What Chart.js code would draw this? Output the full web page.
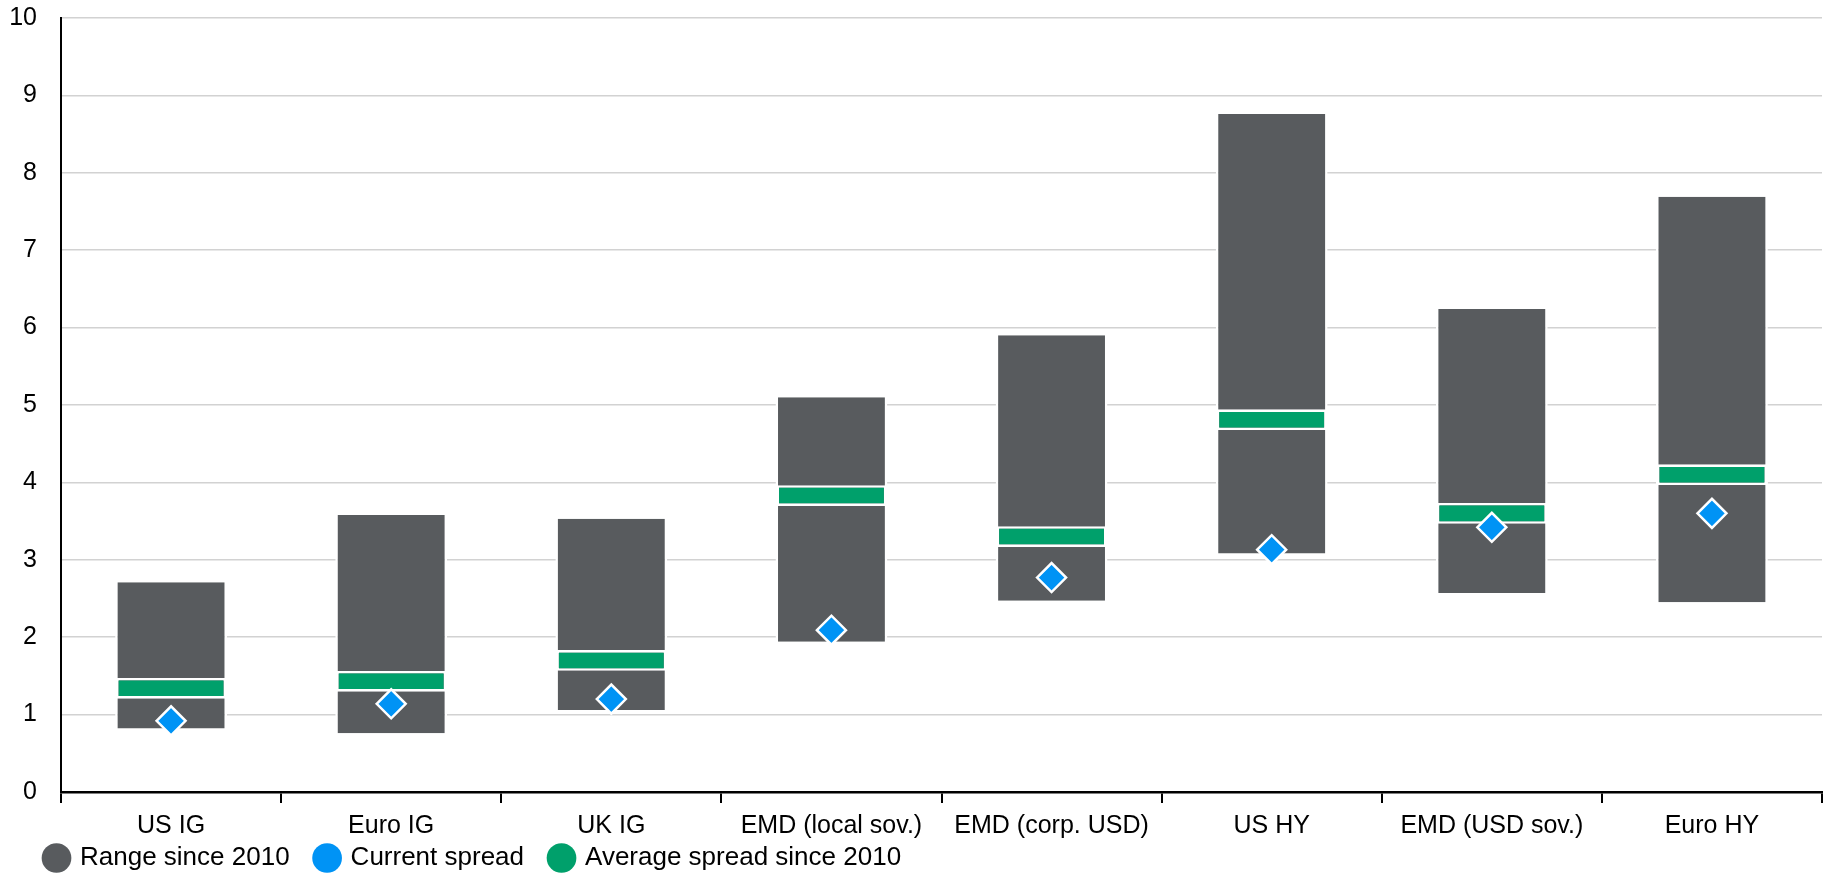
<!DOCTYPE html>
<html>
<head>
<meta charset="utf-8">
<script src="https://cdn.jsdelivr.net/npm/chart.js@4/dist/chart.umd.min.js"></script>
<style>
  html, body { margin: 0; padding: 0; background: #ffffff; overflow: hidden; }
  canvas { display: block; }
</style>
</head>
<body>
<canvas id="c" width="1839" height="875" style="width:1839px;height:875px"></canvas>
<script>
// ---- data ----
const categories = ['US IG', 'Euro IG', 'UK IG', 'EMD (local sov.)', 'EMD (corp. USD)', 'US HY', 'EMD (USD sov.)', 'Euro HY'];
const rangeLow   = [0.82, 0.76, 1.06, 1.94, 2.47, 3.08, 2.57, 2.45];
const rangeHigh  = [2.71, 3.58, 3.53, 5.10, 5.90, 8.76, 6.24, 7.69];
const avgSpread  = [1.34, 1.43, 1.70, 3.83, 3.30, 4.81, 3.60, 4.10];
const currentSpread = [0.92, 1.14, 1.20, 2.09, 2.77, 3.13, 3.42, 3.60];
const seriesNames = ['Range since 2010', 'Current spread', 'Average spread since 2010'];
const yTicks = [0, 1, 2, 3, 4, 5, 6, 7, 8, 9, 10];

// ---- style ----
const GREY = '#585b5e', BLUE = '#0093f5', GREEN = '#00a06b';
const FONT = '"Liberation Sans", Arial, Helvetica, sans-serif';
const BAND_HALF = 0.134; // half thickness of the average-spread marker band (in axis units)

const rangeData = categories.map((c, i) => [rangeLow[i], rangeHigh[i]]);
const avgData = categories.map((c, i) => [avgSpread[i] - BAND_HALF, avgSpread[i] + BAND_HALF]);

// legend placement: keep its layout slot small, then move the drawn box
const legendPlacePlugin = {
  id: 'legendPlace',
  afterInit(chart) {
    const lg = chart.legend;
    if (!lg) return;
    const orig = lg.fit.bind(lg);
    lg.fit = function () { orig(); this.height = 33; };
  },
  afterLayout(chart) {
    const lg = chart.legend;
    if (!lg) return;
    lg.left += 19; lg.right += 19;
    lg.top = chart.height - 57; lg.bottom = chart.height; lg.height = 57;
  }
};

new Chart(document.getElementById('c'), {
  type: 'bar',
  data: {
    labels: categories,
    datasets: [
      {
        label: seriesNames[0],
        data: rangeData,
        backgroundColor: GREY,
        borderColor: '#ffffff',
        borderWidth: { left: 2.5, right: 2.5, top: 0, bottom: 0 },
        borderSkipped: false,
        barPercentage: 0.508,
        categoryPercentage: 1,
        grouped: false,
        order: 2
      },
      {
        type: 'line',
        label: seriesNames[1],
        data: currentSpread,
        showLine: false,
        pointStyle: 'rectRot',
        pointRadius: 14.5,
        pointHoverRadius: 14.5,
        pointBackgroundColor: BLUE,
        pointBorderColor: '#ffffff',
        pointBorderWidth: 2.5,
        backgroundColor: BLUE,
        borderColor: '#ffffff',
        order: 0
      },
      {
        label: seriesNames[2],
        data: avgData,
        backgroundColor: GREEN,
        borderColor: '#ffffff',
        borderWidth: { left: 3.5, right: 3.5, top: 2.6, bottom: 2.6 },
        borderSkipped: false,
        barPercentage: 0.508,
        categoryPercentage: 1,
        grouped: false,
        order: 1
      }
    ]
  },
  options: {
    responsive: false,
    maintainAspectRatio: false,
    devicePixelRatio: 1,
    animation: false,
    layout: { padding: { left: 0, right: 8, top: 18, bottom: 0 } },
    plugins: {
      tooltip: { enabled: false },
      legend: {
        position: 'bottom',
        align: 'start',
        labels: {
          usePointStyle: true,
          pointStyle: 'circle',
          boxWidth: 21,
          boxHeight: 21,
          padding: 27,
          color: '#000000',
          font: { family: FONT, size: 26 },
          sort: (a, b) => a.datasetIndex - b.datasetIndex,
          generateLabels: (chart) => {
            const items = Chart.defaults.plugins.legend.labels.generateLabels(chart);
            items.forEach(it => { it.lineWidth = 0; it.strokeStyle = 'rgba(0,0,0,0)'; it.pointStyle = 'circle'; });
            return items;
          }
        }
      }
    },
    scales: {
      x: {
        offset: true,
        grid: {
          display: true,
          offset: true,
          drawOnChartArea: false,
          drawTicks: true,
          tickLength: 11,
          color: '#000000',
          lineWidth: 2
        },
        border: { display: true, color: '#000000', width: 2.5 },
        ticks: {
          color: '#000000',
          font: { family: FONT, size: 25 },
          padding: 8,
          maxRotation: 0,
          autoSkip: false
        },
        afterFit: (scale) => { scale.height = 50; scale.paddingLeft = 0; scale.paddingRight = 0; }
      },
      y: {
        min: 0,
        max: 10,
        afterBuildTicks: (scale) => { scale.ticks = yTicks.map(v => ({ value: v })); },
        grid: {
          color: '#d2d2d2',
          lineWidth: 1.5,
          drawTicks: false
        },
        border: { display: true, color: '#000000', width: 2 },
        ticks: {
          color: '#000000',
          font: { family: FONT, size: 25 },
          padding: 24
        },
        afterFit: (scale) => { scale.width = 61; scale.paddingTop = 13; scale.paddingBottom = 13; }
      }
    }
  },
  plugins: [legendPlacePlugin]
});
</script>
</body>
</html>
